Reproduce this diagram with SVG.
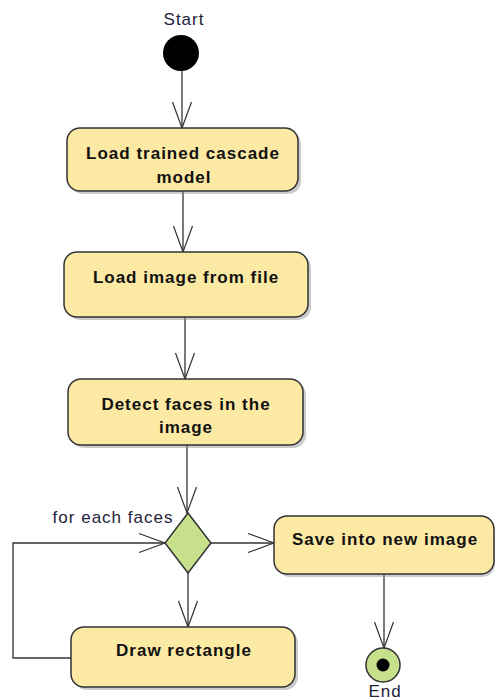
<svg xmlns="http://www.w3.org/2000/svg" width="496" height="700" viewBox="0 0 496 700">
  <style>
    .bg { fill: #ffffff; }
    .act { fill: #fbe9a4; stroke: #333333; stroke-width: 1.5; }
    .shadow { fill: #8c8c8c; opacity: 0.45; }
    .dec { fill: #c6e08c; stroke: #333333; stroke-width: 1.5; }
    .edge { fill: none; stroke: #333333; stroke-width: 1.3; marker-end: url(#open); }
    .lbl { font-family: "Liberation Sans", Arial, sans-serif; font-size: 17px; font-weight: bold; fill: #111111; text-anchor: middle; letter-spacing: 1px; }
    .note { font-family: "Liberation Sans", Arial, sans-serif; font-size: 17px; fill: #22223a; text-anchor: middle; letter-spacing: 1px; }
  </style>
  <defs>
    <marker id="open" markerUnits="userSpaceOnUse" markerWidth="30" markerHeight="24" refX="27" refY="12" orient="auto" viewBox="0 0 30 24" overflow="visible">
      <path d="M1 2.5 L27 12 L1 21.5" fill="none" stroke="#333333" stroke-width="1.2"/>
    </marker>
  </defs>

  <rect class="bg" x="0" y="0" width="496" height="700"/>

  <!-- connectors -->
  <g id="connectors">
    <path class="edge" d="M182 71 V128"/>
    <path class="edge" d="M183 191 V252"/>
    <path class="edge" d="M185 317 V379"/>
    <path class="edge" d="M187 445 V513"/>
    <path class="edge" d="M188 573 V627"/>
    <path class="edge" d="M211 543 H274"/>
    <path class="edge" d="M71 658 H13 V543 H165"/>
    <path class="edge" d="M384 574 V648"/>
  </g>

  <!-- initial node -->
  <g id="start">
    <text class="note" x="184" y="25">Start</text>
    <circle cx="181" cy="53" r="18" fill="#000000"/>
  </g>

  <g id="load-model">
    <rect class="shadow" x="70" y="131" width="231" height="63" rx="13"/>
    <rect class="act" x="67" y="128" width="231" height="63" rx="13"/>
    <text class="lbl" x="183" y="159">Load trained cascade</text>
    <text class="lbl" x="184" y="183">model</text>
  </g>

  <g id="load-image">
    <rect class="shadow" x="67" y="255" width="244" height="65" rx="13"/>
    <rect class="act" x="64" y="252" width="244" height="65" rx="13"/>
    <text class="lbl" x="186" y="283">Load image from file</text>
  </g>

  <g id="detect-faces">
    <rect class="shadow" x="71" y="382" width="235" height="66" rx="13"/>
    <rect class="act" x="68" y="379" width="235" height="66" rx="13"/>
    <text class="lbl" x="186" y="410">Detect faces in the</text>
    <text class="lbl" x="186" y="433">image</text>
  </g>

  <!-- loop decision -->
  <g id="for-each">
    <text class="note" x="113" y="523">for each faces</text>
    <polygon class="dec" points="188,513 211,543 188,573 165,543"/>
  </g>

  <g id="save-image">
    <rect class="shadow" x="277" y="519" width="218" height="58" rx="13"/>
    <rect class="act" x="274" y="516" width="220" height="58" rx="13"/>
    <text class="lbl" x="385" y="545">Save into new image</text>
  </g>

  <g id="draw-rect">
    <rect class="shadow" x="74" y="630" width="224" height="60" rx="13"/>
    <rect class="act" x="71" y="627" width="224" height="60" rx="13"/>
    <text class="lbl" x="184" y="656">Draw rectangle</text>
  </g>

  <!-- final node -->
  <g id="end">
    <circle cx="383" cy="665" r="17" fill="#c6e08c" stroke="#333333" stroke-width="1.5"/>
    <circle cx="383" cy="665" r="6.5" fill="#000000"/>
    <text class="note" x="385" y="697">End</text>
  </g>
</svg>
